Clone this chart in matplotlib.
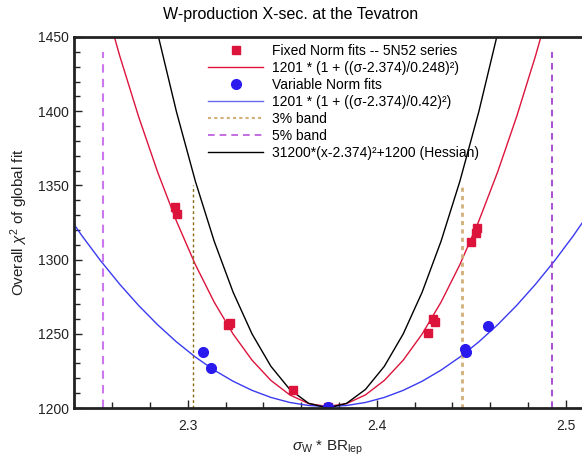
import numpy as np
import matplotlib.pyplot as plt
from matplotlib.lines import Line2D

plt.rcParams['font.family'] = ['Liberation Sans', 'DejaVu Sans']
plt.rcParams['mathtext.fontset'] = 'custom'
plt.rcParams['mathtext.rm'] = 'Liberation Sans'
plt.rcParams['mathtext.it'] = 'Liberation Sans:italic'

# =============================================================================
# Data
# =============================================================================

# Fixed Norm fits -- 5N52 series
fixed_x = [2.2933, 2.2942, 2.3215, 2.3225, 2.3559, 2.374, 2.4270, 2.4300, 2.4309, 2.4497, 2.4525, 2.4529]
fixed_y = [1335.6, 1331.0, 1256.0, 1257.5, 1212.1, 1201.0, 1250.3, 1259.8, 1258.2, 1312.0, 1317.7, 1321.0]

# Variable Norm fits
var_x = [2.3083, 2.3122, 2.374, 2.4465, 2.4470, 2.4587]
var_y = [1237.9, 1227.2, 1201.0, 1240.0, 1237.5, 1255.3]

sigma0 = 2.374
band3 = [0.97 * sigma0, 1.03 * sigma0]
band5 = [0.95 * sigma0, 1.05 * sigma0]

# curves (sampled coarsely, as in the original)
xs = sigma0 + 0.01 * np.arange(-14, 15)
red_curve = 1201 * (1 + ((xs - sigma0) / 0.248) ** 2)
blue_curve = 1201 * (1 + ((xs - sigma0) / 0.42) ** 2)
black_curve = 31200 * (xs - sigma0) ** 2 + 1200

# =============================================================================
# Plot
# =============================================================================

fig = plt.figure(figsize=(5.82, 4.58), dpi=100)
ax = fig.add_axes([74 / 582, 50 / 458, 1 - 74 / 582, (408 - 37) / 458])

red = '#DC143C'
blue = '#2A1AEE'

ax.plot(xs, red_curve, '-', color=red, lw=1)
ax.plot(xs, blue_curve, '-', color='#3A3AF0', lw=1)
ax.plot(xs, black_curve, '-', color='black', lw=1)

ax.vlines(band3[0], 1200, 1350, colors='#8B6914', linestyles=(0, (2, 2)), lw=1)
ax.vlines(band3[1], 1200, 1350, colors='#D2B07A', linestyles=(0, (1.5, 1.5)), lw=2)
ax.vlines(band5[0], 1200, 1440, colors='#CC77EE', linestyles=(0, (4, 3)), lw=1.5)
ax.vlines(band5[1], 1200, 1440, colors='#9932CC', linestyles=(0, (4, 3)), lw=1.2)

ax.plot(fixed_x, fixed_y, 's', color=red, ms=6, mec=red)
ax.plot(var_x, var_y, 'o', color=blue, ms=7, mec=blue)

ax.set_xlim(2.2398, 2.5086)
ax.set_ylim(1200, 1450)
ax.set_xticks([2.3, 2.4, 2.5])
ax.set_xticks(np.arange(2.24, 2.51, 0.02), minor=True)
ax.set_yticks(np.arange(1200, 1451, 50))
ax.set_yticks(np.arange(1200, 1451, 10), minor=True)
ax.tick_params(which='both', direction='in', labelsize=10, colors='#222222', top=False, right=False)
ax.tick_params(which='major', length=6, width=1)
ax.tick_params(which='minor', length=4, width=1)
ax.tick_params(axis='x', pad=8)
for s in ['left', 'bottom', 'top']:
    ax.spines[s].set_linewidth(2)
    ax.spines[s].set_color('#222222')
ax.spines['right'].set_visible(False)

ax.set_xlabel(r'$\sigma_{\rm W}$ * BR$_{\rm lep}$', fontsize=11, color='#222222')
ax.set_ylabel(r'Overall $\chi^2$ of global fit', fontsize=11, color='#222222', labelpad=6)
fig.suptitle('W-production X-sec. at the Tevatron', x=0.5, y=0.985, fontsize=11.5)

handles = [
    Line2D([], [], ls='none', marker='s', color=red, ms=6),
    Line2D([], [], color=red, lw=1),
    Line2D([], [], ls='none', marker='o', color=blue, ms=7),
    Line2D([], [], color='#6A6AF0', lw=1),
    Line2D([], [], color='#D2B07A', ls=(0, (1.5, 1.5)), lw=1.5),
    Line2D([], [], color='#BB55DD', ls=(0, (4, 3)), lw=1.2),
    Line2D([], [], color='black', lw=1),
]
labels = [
    'Fixed Norm fits -- 5N52 series',
    '1201 * (1 + ((\u03c3-2.374)/0.248)\u00b2)',
    'Variable Norm fits',
    '1201 * (1 + ((\u03c3-2.374)/0.42)\u00b2)',
    '3% band',
    '5% band',
    '31200*(x-2.374)\u00b2+1200 (Hessian)',
]
lgd = ax.legend(handles, labels, loc='upper left', bbox_to_anchor=(0.345, 0.919),
                bbox_transform=fig.transFigure, frameon=False, fontsize=10,
                handlelength=4, handletextpad=0.6, labelspacing=0.21, borderpad=0)

fig.savefig('out.png', dpi=100)
